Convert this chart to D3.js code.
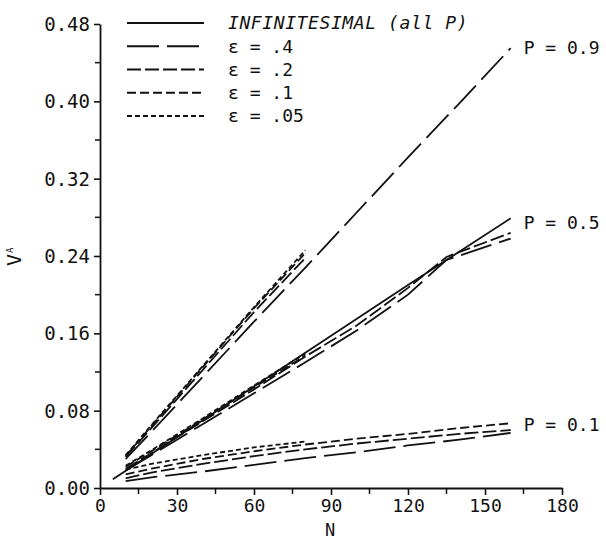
<!DOCTYPE html>
<html>
<head>
<meta charset="utf-8">
<script src="https://cdn.jsdelivr.net/npm/d3@7"></script>
<style>
  body { margin: 0; background: #fff; }
  svg text { font-family: "DejaVu Sans Mono", monospace; fill: #111; }
</style>
</head>
<body>
<svg id="chart" width="606" height="540"></svg>
<script>
// x values (N) used by the different runs
const nInf = [5, 40, 80, 120, 160];
const nFull = [10, 20, 40, 60, 80, 100, 120, 140, 160];
const nShort = [10, 20, 40, 60, 80];
const nKink = [10, 20, 40, 60, 80, 100, 120, 135, 160];

// infinitesimal case (same for all P)
const vInf = [0.009, 0.070, 0.140, 0.210, 0.279];

// P = 0.9
const p9e40 = [0.030, 0.058, 0.115, 0.172, 0.228, 0.285, 0.342, 0.398, 0.455];
const p9e20 = [0.032, 0.062, 0.122, 0.182, 0.238];
const p9e10 = [0.033, 0.064, 0.125, 0.186, 0.243];
const p9e05 = [0.034, 0.065, 0.126, 0.187, 0.246];

// P = 0.5
const p5e40 = [0.018, 0.034, 0.066, 0.098, 0.130, 0.163, 0.200, 0.236, 0.258];
const p5e20 = [0.020, 0.036, 0.069, 0.102, 0.136, 0.168, 0.207, 0.239, 0.264];
const p5e10 = [0.022, 0.038, 0.071, 0.104, 0.137];
const p5e05 = [0.023, 0.039, 0.072, 0.106, 0.139];

// P = 0.1
const p1e40 = [0.007, 0.011, 0.017, 0.024, 0.031, 0.037, 0.044, 0.050, 0.057];
const p1e20 = [0.010, 0.016, 0.025, 0.033, 0.040, 0.046, 0.051, 0.056, 0.060];
const p1e10 = [0.014, 0.020, 0.030, 0.038, 0.045, 0.051, 0.056, 0.062, 0.067];
const p1e05 = [0.019, 0.025, 0.034, 0.042, 0.048];

const xTicks = [0, 30, 60, 90, 120, 150, 180];
const yTicks = [0.00, 0.08, 0.16, 0.24, 0.32, 0.40, 0.48];

const legendLabels = ["INFINITESIMAL (all P)", "\u03b5 = .4", "\u03b5 = .2", "\u03b5 = .1", "\u03b5 = .05"];
const pLabels = ["P = 0.9", "P = 0.5", "P = 0.1"];
const pLabelV = [0.456, 0.274, 0.065];

const dashes = [null, "32,8", "14,4", "9,4", "5,3"];

const svg = d3.select("#chart");

const x = d3.scaleLinear().domain([0, 180]).range([100, 562]);
const y = d3.scaleLinear().domain([0, 0.48]).range([488, 24]);

// axes
const yAxis = svg.append("g")
    .attr("transform", "translate(100,0)")
    .call(d3.axisLeft(y).tickValues(yTicks).tickFormat(d3.format(".2f")).tickSize(6).tickSizeOuter(0).tickPadding(4));
const xAxis = svg.append("g")
    .attr("transform", "translate(0,488)")
    .call(d3.axisBottom(x).tickValues(xTicks).tickFormat(d3.format("d")).tickSize(7).tickSizeOuter(0).tickPadding(4));

[yAxis, xAxis].forEach(a => {
  a.select(".domain").attr("stroke", "#111").attr("stroke-width", 1.8);
  a.selectAll(".tick line").attr("stroke", "#111").attr("stroke-width", 1.6);
  a.selectAll("text").attr("font-size", 19).attr("fill", "#111")
    .style("font-family", "'DejaVu Sans Mono', monospace");
});
yAxis.selectAll("text").attr("dy", "0.35em");
xAxis.selectAll("text").attr("font-size", 18);

// minor ticks
svg.append("g").selectAll("line")
  .data(d3.range(0.04, 0.48, 0.08))
  .join("line")
  .attr("x1", 95).attr("x2", 100)
  .attr("y1", d => y(d)).attr("y2", d => y(d))
  .attr("stroke", "#111").attr("stroke-width", 1.5);
svg.append("g").selectAll("line")
  .data(d3.range(15, 180, 30))
  .join("line")
  .attr("x1", d => x(d)).attr("x2", d => x(d))
  .attr("y1", 488).attr("y2", 494)
  .attr("stroke", "#111").attr("stroke-width", 1.5);

// axis titles
svg.append("text")
  .attr("x", 330).attr("y", 536)
  .attr("text-anchor", "middle")
  .attr("font-size", 17)
  .text("N");

const yl = svg.append("text")
  .attr("transform", "translate(21,266) rotate(-90)")
  .attr("font-size", 20);
yl.append("tspan").text("V");
yl.append("tspan").attr("font-size", 9).attr("dy", -8).attr("dx", 1).text("A");

// series
const series = [
  { n: nInf, v: vInf, s: 0 },
  { n: nFull, v: p9e40, s: 1 },
  { n: nShort, v: p9e20, s: 2 },
  { n: nShort, v: p9e10, s: 3 },
  { n: nShort, v: p9e05, s: 4 },
  { n: nKink, v: p5e40, s: 1 },
  { n: nKink, v: p5e20, s: 2 },
  { n: nShort, v: p5e10, s: 3 },
  { n: nShort, v: p5e05, s: 4 },
  { n: nFull, v: p1e40, s: 1 },
  { n: nFull, v: p1e20, s: 2 },
  { n: nFull, v: p1e10, s: 3 },
  { n: nShort, v: p1e05, s: 4 }
];

const line = d3.line()
  .x(d => x(d[0]))
  .y(d => y(d[1]));

svg.append("g").selectAll("path")
  .data(series)
  .join("path")
  .attr("d", d => line(d.n.map((n, i) => [n, d.v[i]])))
  .attr("fill", "none")
  .attr("stroke", "#111")
  .attr("stroke-width", 1.8)
  .attr("stroke-dasharray", d => dashes[d.s]);

// P labels at the line ends
svg.append("g").selectAll("text")
  .data(pLabels)
  .join("text")
  .attr("x", x(160) + 13)
  .attr("y", (d, i) => y(pLabelV[i]))
  .attr("dy", "0.35em")
  .attr("font-size", 18)
  .text(d => d);

// legend
const leg = svg.append("g");
const rowY = d3.scaleLinear().domain([0, 4]).range([23, 116]);
leg.selectAll("line")
  .data(legendLabels)
  .join("line")
  .attr("x1", 127).attr("x2", 204)
  .attr("y1", (d, i) => rowY(i)).attr("y2", (d, i) => rowY(i))
  .attr("stroke", "#111").attr("stroke-width", 1.8)
  .attr("stroke-dasharray", (d, i) => dashes[i]);
leg.selectAll("text")
  .data(legendLabels)
  .join("text")
  .attr("x", 228)
  .attr("y", (d, i) => rowY(i))
  .attr("dy", "0.35em")
  .attr("font-size", 18)
  .attr("font-style", (d, i) => i === 0 ? "italic" : "normal")
  .attr("letter-spacing", (d, i) => i === 0 ? 0.6 : 0)
  .text(d => d);
</script>
</body>
</html>
